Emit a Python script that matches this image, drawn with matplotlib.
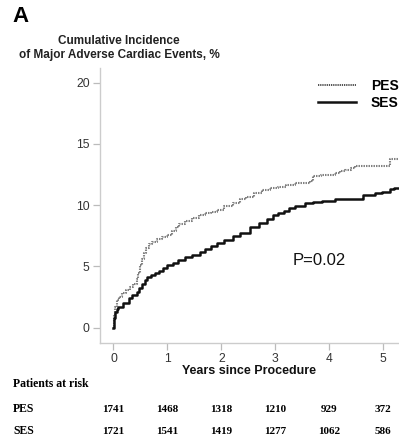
import matplotlib
matplotlib.use("Agg")
import matplotlib.pyplot as plt
import matplotlib.transforms as mtransforms
from matplotlib.lines import Line2D

plt.rcParams['font.family'] = ['Liberation Sans', 'DejaVu Sans']

# Kaplan-Meier style cumulative incidence
pes_t = [0, 0.01, 0.03, 0.06, 0.10, 0.16, 0.23, 0.31, 0.37, 0.43, 0.46, 0.49, 0.53, 0.56,
         0.60, 0.65, 0.72, 0.80, 0.90, 1.00, 1.08, 1.15, 1.22, 1.32, 1.45, 1.58, 1.70,
         1.80, 1.91, 2.05, 2.22, 2.35, 2.45, 2.60, 2.75, 2.90, 3.05, 3.20, 3.36, 3.50,
         3.64, 3.70, 3.85, 3.98, 4.10, 4.20, 4.29, 4.40, 4.48, 5.12, 5.28]
pes_y = [0, 1.0, 1.7, 2.3, 2.5, 2.8, 3.1, 3.35, 3.6, 4.0, 4.5, 5.1, 5.6, 6.1,
         6.5, 6.8, 7.0, 7.2, 7.4, 7.6, 7.9, 8.2, 8.5, 8.7, 8.95, 9.2, 9.4,
         9.45, 9.6, 9.9, 10.15, 10.5, 10.7, 11.0, 11.2, 11.4, 11.5, 11.65, 11.8, 11.85,
         11.95, 12.4, 12.45, 12.5, 12.65, 12.8, 12.9, 13.05, 13.2, 13.8, 13.8]

ses_t = [0, 0.01, 0.03, 0.06, 0.09, 0.17, 0.28, 0.35, 0.43, 0.48, 0.53, 0.58, 0.62, 0.70,
         0.77, 0.85, 0.92, 0.99, 1.10, 1.20, 1.32, 1.45, 1.60, 1.70, 1.80, 1.91, 2.05,
         2.22, 2.35, 2.53, 2.70, 2.84, 2.96, 3.05, 3.15, 3.25, 3.36, 3.55, 3.70, 3.86,
         4.10, 4.35, 4.60, 4.63, 4.85, 4.97, 5.12, 5.19, 5.28]
ses_y = [0, 0.8, 1.3, 1.55, 1.7, 2.0, 2.4, 2.7, 2.9, 3.2, 3.6, 3.9, 4.15, 4.3,
         4.45, 4.65, 4.9, 5.1, 5.3, 5.5, 5.75, 5.9, 6.2, 6.4, 6.65, 6.9, 7.15,
         7.45, 7.75, 8.2, 8.55, 8.9, 9.2, 9.4, 9.55, 9.8, 9.95, 10.15, 10.3, 10.37,
         10.48, 10.5, 10.53, 10.83, 10.97, 11.1, 11.3, 11.43, 11.43]

x_ticks = [0, 1, 2, 3, 4, 5]
y_ticks = [0, 5, 10, 15, 20]
risk_groups = ["PES", "SES"]
risk_pes = [1741, 1468, 1318, 1210, 929, 372]
risk_ses = [1721, 1541, 1419, 1277, 1062, 586]

fig = plt.figure(figsize=(3.99, 4.42), dpi=100)
ax = fig.add_axes([100/399, 1 - 343/442, 299/399, (343 - 68)/442])

ax.plot(pes_t, pes_y, drawstyle='steps-post', color='#808080', lw=1.5,
        linestyle=(0, (0.7, 0.5)))
ax.plot(ses_t, ses_y, drawstyle='steps-post', color='#111111', lw=1.8)

ax.set_xlim(-0.25, 5.29)
ax.set_ylim(-1.25, 21.2)
ax.set_xticks(x_ticks)
ax.set_yticks(y_ticks)
for s in ['top', 'right']:
    ax.spines[s].set_visible(False)
for s in ['left', 'bottom']:
    ax.spines[s].set_color('#cccccc')
    ax.spines[s].set_linewidth(1.0)
ax.tick_params(axis='both', colors='#bbbbbb', length=5, width=0.9,
               labelsize=8.7, labelcolor='#333333', pad=2.5)

ax.set_xlabel("Years since Procedure", fontsize=9, fontweight='bold',
              color='#111111', labelpad=0)

# Legend
leg_handles = [Line2D([], [], color='#444444', lw=1.3, linestyle=(0, (0.7, 0.5))),
               Line2D([], [], color='#111111', lw=1.8)]
ax.legend(leg_handles, risk_groups, loc='upper right', bbox_to_anchor=(1.027, 0.991),
          frameon=False, handlelength=2.7, handletextpad=1.1, labelspacing=0.2,
          prop={'weight': 'bold', 'size': 10}, borderaxespad=0.2)

ax.text(3.31, 5.45, "P=0.02", fontsize=12, va='center', ha='left', color='#111111')

# Titles
fig.text(12/399, 1 - 16/442, "A", fontsize=16, fontweight='bold', va='center', ha='left')
fig.text(119/399, 1 - 41/442, "Cumulative Incidence", fontsize=8.5, fontweight='bold',
         va='center', ha='center', color='#222222')
fig.text(119/399, 1 - 55/442, "of Major Adverse Cardiac Events, %", fontsize=8.5,
         fontweight='bold', va='center', ha='center', color='#222222')

# Patients at risk table
trans = mtransforms.blended_transform_factory(ax.transData, fig.transFigure)
serif = ['Liberation Serif', 'DejaVu Serif']
fig.text(13/399, 1 - 384/442, "Patients at risk", fontsize=8.5, fontweight='bold',
         family=serif, va='center', ha='left')
rows = [risk_pes, risk_ses]
row_y = [409, 431]
for name, vals, yy in zip(risk_groups, rows, row_y):
    fig.text(13/399, 1 - yy/442, name, fontsize=8.5, fontweight='bold', family=serif,
             va='center', ha='left')
    for t, v in zip(x_ticks, vals):
        ax.text(t, 1 - yy/442, str(v), transform=trans, fontsize=8, fontweight='bold',
                family=serif, va='center', ha='center')

fig.savefig("out.png", dpi=100)
